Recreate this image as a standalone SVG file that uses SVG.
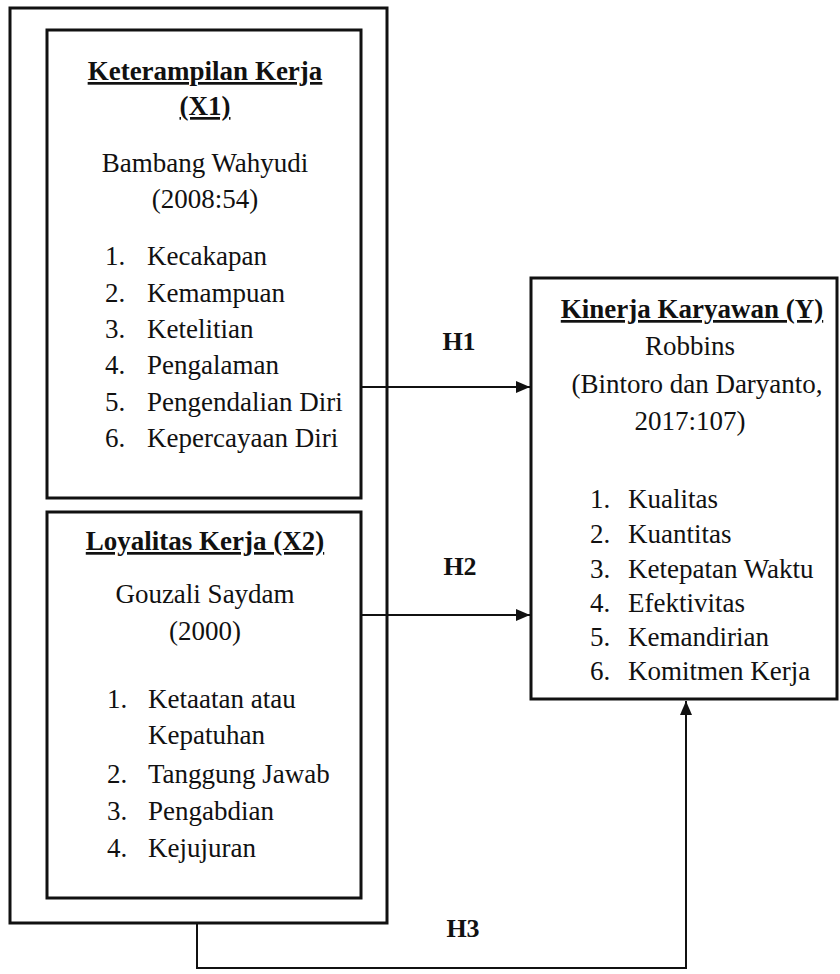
<svg xmlns="http://www.w3.org/2000/svg" width="840" height="974" viewBox="0 0 840 974">
<style>
.box{fill:none;stroke:#111;stroke-width:3}
.ln{fill:none;stroke:#111;stroke-width:2}
text{font-family:"Liberation Serif","Times New Roman",serif;font-size:27px;fill:#111}
.t{font-weight:bold;text-decoration:underline;text-anchor:middle}
.c{text-anchor:middle}
.h{font-weight:bold;text-anchor:middle;font-size:26px}
</style>
<defs>
<marker id="arr" viewBox="0 0 14 12" refX="14" refY="6" markerWidth="14" markerHeight="12" markerUnits="userSpaceOnUse" orient="auto">
<path d="M0,0 L14,6 L0,12 z" fill="#111"/>
</marker>
</defs>
<rect width="840" height="974" fill="#fff"/>
<g id="outer">
<rect class="box" x="10" y="8" width="377" height="915"/>
</g>
<g id="x1">
<rect class="box" x="47" y="30" width="314" height="468"/>
<text class="t" x="205" y="80">Keterampilan Kerja</text>
<text class="t" x="205" y="115">(X1)</text>
<text class="c" x="205" y="172">Bambang Wahyudi</text>
<text class="c" x="205" y="208">(2008:54)</text>
<text x="105" y="265">1.</text><text x="147" y="265">Kecakapan</text>
<text x="105" y="302">2.</text><text x="147" y="302">Kemampuan</text>
<text x="105" y="338">3.</text><text x="147" y="338">Ketelitian</text>
<text x="105" y="374">4.</text><text x="147" y="374">Pengalaman</text>
<text x="105" y="411">5.</text><text x="147" y="411">Pengendalian Diri</text>
<text x="105" y="447">6.</text><text x="147" y="447">Kepercayaan Diri</text>
</g>
<g id="x2">
<rect class="box" x="47" y="512" width="314" height="386"/>
<text class="t" x="205" y="550">Loyalitas Kerja (X2)</text>
<text class="c" x="205" y="603">Gouzali Saydam</text>
<text class="c" x="205" y="640">(2000)</text>
<text x="107" y="708">1.</text><text x="148" y="708">Ketaatan atau</text>
<text x="148" y="744">Kepatuhan</text>
<text x="107" y="783">2.</text><text x="148" y="783">Tanggung Jawab</text>
<text x="107" y="820">3.</text><text x="148" y="820">Pengabdian</text>
<text x="107" y="857">4.</text><text x="148" y="857">Kejujuran</text>
</g>
<g id="y">
<rect class="box" x="531" y="278" width="306" height="421"/>
<text class="t" x="692" y="318">Kinerja Karyawan (Y)</text>
<text class="c" x="690" y="355">Robbins</text>
<text class="c" x="697" y="393">(Bintoro dan Daryanto,</text>
<text class="c" x="690" y="430">2017:107)</text>
<text x="590" y="508">1.</text><text x="628" y="508">Kualitas</text>
<text x="590" y="543">2.</text><text x="628" y="543">Kuantitas</text>
<text x="590" y="578">3.</text><text x="628" y="578">Ketepatan Waktu</text>
<text x="590" y="612">4.</text><text x="628" y="612">Efektivitas</text>
<text x="590" y="646">5.</text><text x="628" y="646">Kemandirian</text>
<text x="590" y="680">6.</text><text x="628" y="680">Komitmen Kerja</text>
</g>
<g id="connectors">
<line class="ln" x1="361" y1="387" x2="530" y2="387" marker-end="url(#arr)"/>
<line class="ln" x1="361" y1="615" x2="530" y2="615" marker-end="url(#arr)"/>
<polyline class="ln" points="197,923 197,968 686,968 686,701" marker-end="url(#arr)"/>
<text class="h" x="459" y="350">H1</text>
<text class="h" x="460" y="575">H2</text>
<text class="h" x="463" y="937">H3</text>
</g>
</svg>
